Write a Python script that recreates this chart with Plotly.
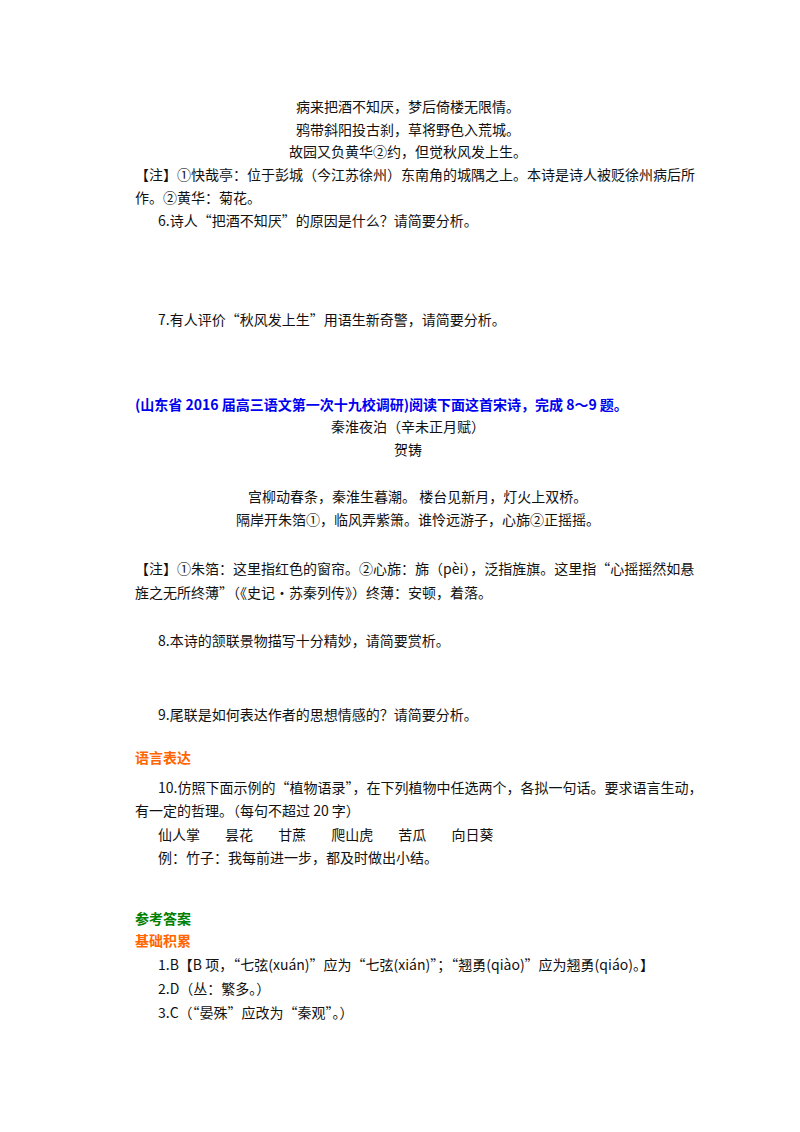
import plotly.graph_objects as go

W, H = 800, 1132
YOFF = -8
poem_lines = ["病来把酒不知厌，梦后倚楼无限情。", "鸦带斜阳投古刹，草将野色入荒城。", "故园又负黄华②约，但觉秋风发上生。"]
poem_y = [106, 129, 151]
SP = "&nbsp;" * 8
body = [
    ("【注】①快哉亭：位于彭城（今江苏徐州）东南角的城隅之上。本诗是诗人被贬徐州病后所", 125, 174),
    ("作。②黄华：菊花。", 125, 197),
    ("6.诗人“把酒不知厌”的原因是什么？请简要分析。", 148, 220),
    ("7.有人评价“秋风发上生”用语生新奇警，请简要分析。", 148, 319),
    ("【注】①朱箔：这里指红色的窗帘。②心旆：旆（pèi），泛指旌旗。这里指“心摇摇然如悬", 125, 568),
    ("旌之无所终薄”（《史记·苏秦列传》）终薄：安顿，着落。", 125, 592),
    ("8.本诗的颔联景物描写十分精妙，请简要赏析。", 148, 640),
    ("9.尾联是如何表达作者的思想情感的？请简要分析。", 148, 714),
    ("10.仿照下面示例的“植物语录”，在下列植物中任选两个，各拟一句话。要求语言生动，", 148, 787),
    ("有一定的哲理。（每句不超过 20 字）", 125, 810),
    (SP.join(["仙人掌", "昙花", "甘蔗", "爬山虎", "苦瓜", "向日葵"]), 148, 834),
    ("例：竹子：我每前进一步，都及时做出小结。", 148, 857),
    ("1.B【B 项，“七弦(xuán)”应为“七弦(xián)”；“翘勇(qiào)”应为翘勇(qiáo)。】", 148, 964),
    ("2.D（丛：繁多。）", 148, 988),
    ("3.C（“晏殊”应改为“秦观”。）", 148, 1012),
]
centered = [
    ("秦淮夜泊（辛未正月赋）", 400, 426),
    ("贺铸", 400, 449),
    ("宫柳动春条，秦淮生暮潮。 楼台见新月，灯火上双桥。", 410, 496),
    ("隔岸开朱箔①，临风弄紫箫。谁怜远游子，心旆②正摇摇。", 410, 519),
]
headings = [
    ("(山东省 2016 届高三语文第一次十九校调研)阅读下面这首宋诗，完成 8～9 题。", 125, 404, "#0000ee"),
    ("语言表达", 125, 757, "#ff6600"),
    ("参考答案", 125, 918, "#008000"),
    ("基础积累", 125, 940, "#ff6600"),
]

FONT = "Noto Sans CJK SC"
fig = go.Figure()
ann = []
def add(t, x, y, anchor, color="#111111", bold=False):
    ann.append(dict(text=f"<b>{t}</b>" if bold else t, x=x / W, y=1 - (y + YOFF) / H, xref="paper", yref="paper",
                    xanchor=anchor, yanchor="middle", showarrow=False,
                    font=dict(family=FONT, size=14, color=color)))
for t, y in zip(poem_lines, poem_y):
    add(t, 400, y, "center")
for t, x, y in body:
    add(t, x, y, "left")
for t, x, y in centered:
    add(t, x, y, "center")
for t, x, y, c in headings:
    add(t, x, y, "left", c, True)

fig.update_layout(width=W, height=H, margin=dict(l=0, r=0, t=0, b=0),
                  paper_bgcolor="white", plot_bgcolor="white",
                  xaxis=dict(visible=False), yaxis=dict(visible=False),
                  annotations=ann)
fig.write_html("out.html")
